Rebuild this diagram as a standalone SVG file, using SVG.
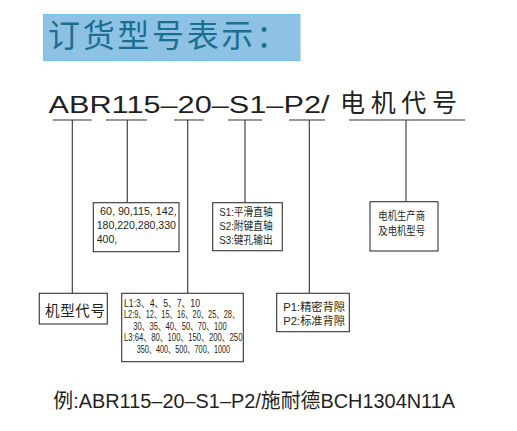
<svg xmlns="http://www.w3.org/2000/svg" width="517" height="431" viewBox="0 0 517 431">
<style>
.ln{stroke:#333;stroke-width:1.1;fill:none}
.bx{stroke:#333;stroke-width:1.1;fill:#fff}
.t{font-family:"Liberation Sans","Noto Sans CJK SC",sans-serif;fill:#231f20}
.s{font-size:11px}
</style>
<rect width="517" height="431" fill="#fff"/>
<g id="title">
<rect x="43.5" y="14.5" width="256.5" height="46" fill="#8dc2e5" stroke="#70c3f0" stroke-width="1"/>
<text x="48" y="47" font-family="'Noto Sans CJK SC',sans-serif" font-size="32" fill="#1d6f90" textLength="240" lengthAdjust="spacing">订货型号表示：</text>
</g>
<g id="code">
<text class="t" x="48.5" y="113" font-size="23" textLength="281" lengthAdjust="spacingAndGlyphs">ABR115–20–S1–P2/</text>
<text x="340" y="111.5" font-family="'Noto Sans CJK SC',sans-serif" font-size="25" fill="#231f20" textLength="117" lengthAdjust="spacing">电机代号</text>
</g>
<g id="connectors">
<path class="ln" d="M52.7 120H91.7M106 120H147M174 120H204M228 120H262M289 120H325M349 120H465"/>
<path class="ln" d="M72.3 120V293.3M127.3 120V202.7M187.7 120V293.3M245 120V202.7M309.3 120V293.3M406 120V201.7"/>
</g>
<g id="node-size">
<rect class="bx" x="93.3" y="202.7" width="85.7" height="49"/>
<text class="t s" x="100" y="215" textLength="76.7" lengthAdjust="spacingAndGlyphs">60, 90,115, 142,</text>
<text class="t s" x="96.7" y="229" textLength="79.3" lengthAdjust="spacingAndGlyphs">180,220,280,330</text>
<text class="t s" x="96.7" y="243.3" textLength="20.6" lengthAdjust="spacingAndGlyphs">400,</text>
</g>
<g id="node-shaft">
<rect class="bx" x="212.7" y="202.7" width="69.6" height="48"/>
<text class="t s" x="219.3" y="216" textLength="53.4" lengthAdjust="spacingAndGlyphs">S1:平滑直轴</text>
<text class="t s" x="219.3" y="229.5" textLength="53.4" lengthAdjust="spacingAndGlyphs">S2:附键直轴</text>
<text class="t s" x="219.3" y="243.5" textLength="53.4" lengthAdjust="spacingAndGlyphs">S3:键孔输出</text>
</g>
<g id="node-motor">
<rect class="bx" x="370" y="201.7" width="68" height="49.3"/>
<text class="t s" x="378.3" y="219.5" textLength="46.7" lengthAdjust="spacingAndGlyphs">电机生产商</text>
<text class="t s" x="378.3" y="235" textLength="46.7" lengthAdjust="spacingAndGlyphs">及电机型号</text>
</g>
<g id="node-frame">
<rect class="bx" x="39.3" y="293.3" width="68" height="30.7"/>
<text class="t" x="45" y="315.5" font-size="14.5" textLength="60" lengthAdjust="spacing">机型代号</text>
</g>
<g id="node-ratio">
<rect class="bx" x="121.7" y="293.3" width="121.6" height="68.4"/>
<text class="t s" x="124" y="306.5" textLength="76" lengthAdjust="spacingAndGlyphs">L1:3、4、5、7、10</text>
<text class="t s" x="124" y="318" textLength="115.3" lengthAdjust="spacingAndGlyphs">L2:9、12、15、16、20、25、28、</text>
<text class="t s" x="133.3" y="329.5" textLength="93.4" lengthAdjust="spacingAndGlyphs">30、35、40、50、70、100</text>
<text class="t s" x="124" y="341" textLength="118.5" lengthAdjust="spacingAndGlyphs">L3:64、80、100、150、200、250</text>
<text class="t s" x="136.7" y="352.5" textLength="93.3" lengthAdjust="spacingAndGlyphs">350、400、500、700、1000</text>
</g>
<g id="node-backlash">
<rect class="bx" x="276.7" y="293.3" width="72.6" height="38.4"/>
<text class="t s" x="283.3" y="310.7" textLength="61.7" lengthAdjust="spacingAndGlyphs">P1:精密背隙</text>
<text class="t s" x="283.3" y="325" textLength="61.7" lengthAdjust="spacingAndGlyphs">P2:标准背隙</text>
</g>
<g id="example">
<text class="t" x="53.3" y="407.7" font-size="20" textLength="401.7" lengthAdjust="spacingAndGlyphs">例:ABR115–20–S1–P2/施耐德BCH1304N11A</text>
</g>
</svg>
